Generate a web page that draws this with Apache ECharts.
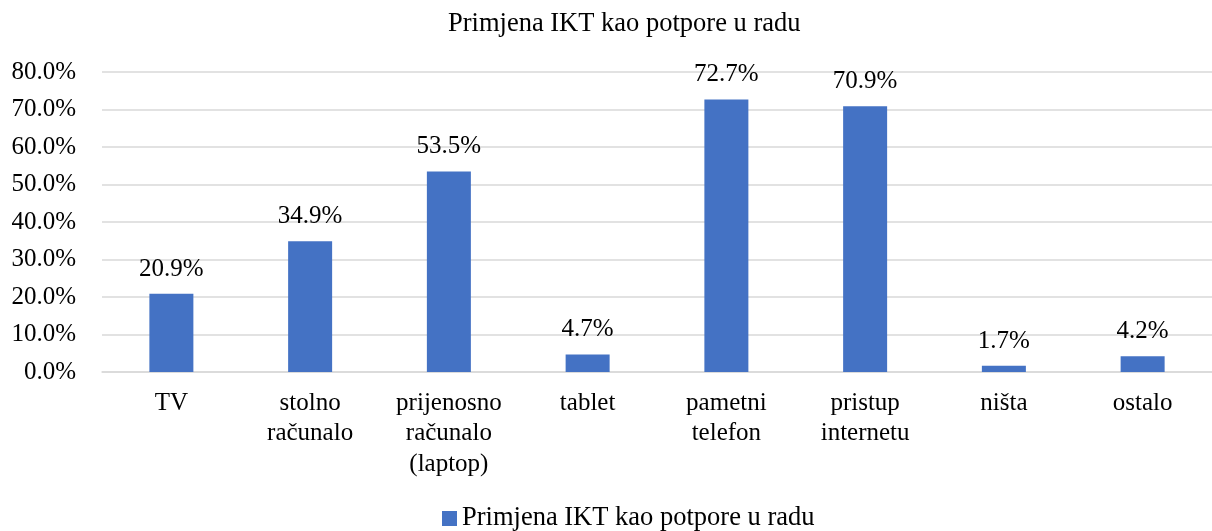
<!DOCTYPE html>
<html>
<head>
<meta charset="utf-8">
<script src="https://cdn.jsdelivr.net/npm/echarts@6/dist/echarts.min.js"></script>
<style>
  html, body { margin: 0; padding: 0; background: #fff; }
  #chart { width: 1212px; height: 531px; }
</style>
</head>
<body>
<div id="chart"></div>
<script>
const categories = ['TV', 'stolno\nračunalo', 'prijenosno\nračunalo\n(laptop)', 'tablet', 'pametni\ntelefon', 'pristup\ninternetu', 'ništa', 'ostalo']
const values = [20.9, 34.9, 53.5, 4.7, 72.7, 70.9, 1.7, 4.2]
const seriesName = 'Primjena IKT kao potpore u radu'

const font = '"Liberation Serif", "Times New Roman", serif'

const chart = echarts.init(document.getElementById('chart'), null, { renderer: 'canvas' })

chart.setOption({
  animation: false,
  title: {
    text: seriesName,
    left: 448,
    top: 11,
    padding: 0,
    textStyle: { fontFamily: font, fontSize: 26.5, fontWeight: 'normal', color: '#000' }
  },
  legend: {
    data: [seriesName],
    left: 442,
    top: 505,
    padding: 0,
    icon: 'rect',
    itemWidth: 15,
    itemHeight: 15,
    textStyle: { fontFamily: font, fontSize: 26.5, color: '#000' }
  },
  grid: {
    left: 102,
    top: 72,
    width: 1123,
    height: 300,
    containLabel: false
  },
  xAxis: {
    type: 'category',
    data: categories,
    axisTick: { show: false },
    axisLine: { lineStyle: { color: '#d9d9d9', width: 1.5 } },
    axisLabel: {
      fontFamily: font,
      fontSize: 25,
      color: '#000',
      lineHeight: 30.5,
      interval: 0,
      margin: 16
    }
  },
  yAxis: {
    type: 'value',
    min: 0,
    max: 80,
    interval: 10,
    axisLine: { show: false },
    axisTick: { show: false },
    splitLine: { lineStyle: { color: '#d9d9d9', width: 1.5 } },
    axisLabel: {
      fontFamily: font,
      fontSize: 25,
      color: '#000',
      margin: 26,
      formatter: v => v.toFixed(1) + '%'
    }
  },
  series: [{
    name: seriesName,
    type: 'bar',
    data: values,
    barWidth: 44,
    itemStyle: { color: '#4472C4' },
    label: {
      show: true,
      position: 'top',
      distance: 12,
      fontFamily: font,
      fontSize: 25,
      color: '#000',
      formatter: p => p.value.toFixed(1) + '%'
    }
  }]
})
</script>
</body>
</html>
